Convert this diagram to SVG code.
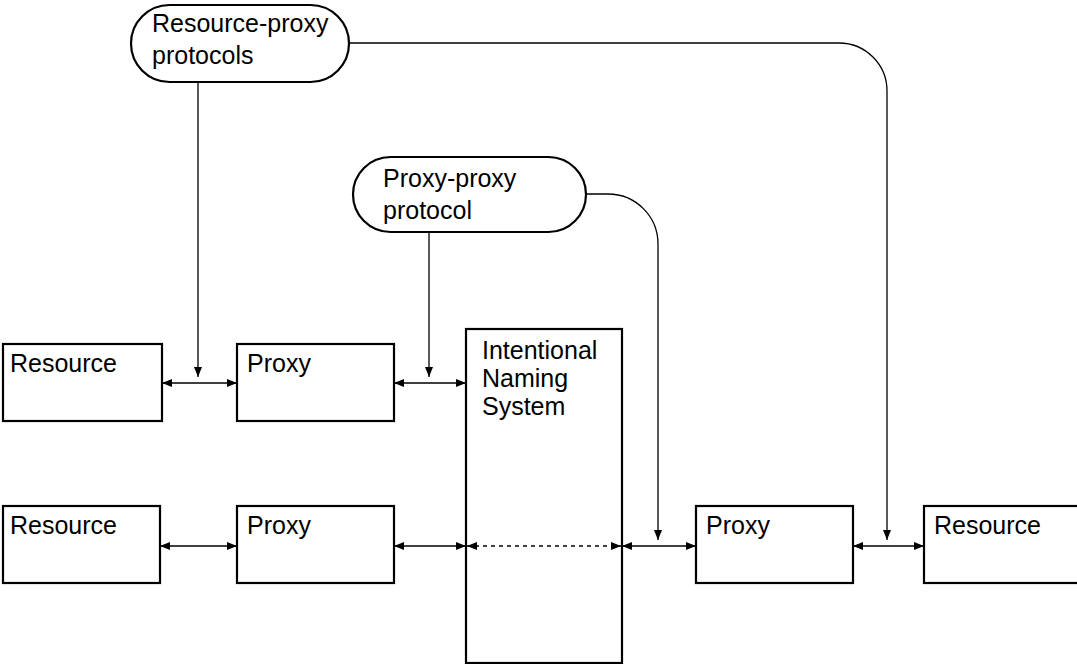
<svg xmlns="http://www.w3.org/2000/svg" width="1077" height="664" viewBox="0 0 1077 664">
  <defs>
    <style>
      .box { fill: #fff; stroke: #000; stroke-width: 2.2; }
      .lbl { font-family: "Liberation Sans", Arial, sans-serif; font-size: 25px; fill: #000; }
      .wire { fill: none; stroke: #000; stroke-width: 1.3; }
      .dots { fill: none; stroke: #000; stroke-width: 1.3; stroke-dasharray: 4 4; }
    </style>
    <marker id="head" viewBox="0 0 10 8" refX="10" refY="4" markerWidth="10" markerHeight="8" markerUnits="userSpaceOnUse" orient="auto-start-reverse">
      <path d="M0,0 L10,4 L0,8 z" fill="#000"/>
    </marker>
  </defs>
  <rect width="1077" height="664" fill="#fff"/>

  <!-- protocol bubbles -->
  <g id="resource-proxy-protocols">
    <rect class="box" x="131" y="5" width="218" height="77" rx="38.5"/>
    <text class="lbl" x="152" y="32">Resource-proxy</text>
    <text class="lbl" x="152" y="64">protocols</text>
  </g>
  <g id="proxy-proxy-protocol">
    <rect class="box" x="353" y="157" width="233" height="75" rx="37.5"/>
    <text class="lbl" x="383" y="187">Proxy-proxy</text>
    <text class="lbl" x="383" y="219">protocol</text>
  </g>

  <!-- upper row -->
  <g id="resource-1">
    <rect class="box" x="3" y="344" width="159" height="77"/>
    <text class="lbl" x="10" y="372">Resource</text>
  </g>
  <g id="proxy-1">
    <rect class="box" x="237" y="344" width="157" height="77"/>
    <text class="lbl" x="247" y="372">Proxy</text>
  </g>

  <!-- naming system -->
  <g id="ins">
    <rect class="box" x="466" y="329" width="156" height="334"/>
    <text class="lbl" x="482" y="359">Intentional</text>
    <text class="lbl" x="482" y="387">Naming</text>
    <text class="lbl" x="482" y="415">System</text>
  </g>

  <!-- lower row -->
  <g id="resource-2">
    <rect class="box" x="3" y="506" width="157" height="77"/>
    <text class="lbl" x="10" y="534">Resource</text>
  </g>
  <g id="proxy-2">
    <rect class="box" x="237" y="506" width="157" height="77"/>
    <text class="lbl" x="247" y="534">Proxy</text>
  </g>
  <g id="proxy-3">
    <rect class="box" x="696" y="506" width="157" height="77"/>
    <text class="lbl" x="706" y="534">Proxy</text>
  </g>
  <g id="resource-3">
    <rect class="box" x="924" y="506" width="160" height="77"/>
    <text class="lbl" x="934" y="534">Resource</text>
  </g>

  <g id="connectors">
    <!-- upper row links -->
    <line class="wire" x1="162" y1="383" x2="237" y2="383" marker-start="url(#head)" marker-end="url(#head)"/>
    <line class="wire" x1="394" y1="383" x2="466" y2="383" marker-start="url(#head)" marker-end="url(#head)"/>
    <!-- lower row links -->
    <line class="wire" x1="160" y1="546" x2="237" y2="546" marker-start="url(#head)" marker-end="url(#head)"/>
    <line class="wire" x1="394" y1="546" x2="466" y2="546" marker-start="url(#head)" marker-end="url(#head)"/>
    <line class="dots" x1="467" y1="546" x2="621" y2="546" marker-start="url(#head)" marker-end="url(#head)"/>
    <line class="wire" x1="622" y1="546" x2="696" y2="546" marker-start="url(#head)" marker-end="url(#head)"/>
    <line class="wire" x1="853" y1="546" x2="924" y2="546" marker-start="url(#head)" marker-end="url(#head)"/>
    <!-- protocol pointers -->
    <line class="wire" x1="198" y1="82" x2="198" y2="377" marker-end="url(#head)"/>
    <line class="wire" x1="429" y1="232" x2="429" y2="377" marker-end="url(#head)"/>
    <path class="wire" d="M349,43 H839 A48,48 0 0 1 887,91 V540" marker-end="url(#head)"/>
    <path class="wire" d="M586,194 H608 A50,50 0 0 1 658,244 V540" marker-end="url(#head)"/>
  </g>
</svg>
